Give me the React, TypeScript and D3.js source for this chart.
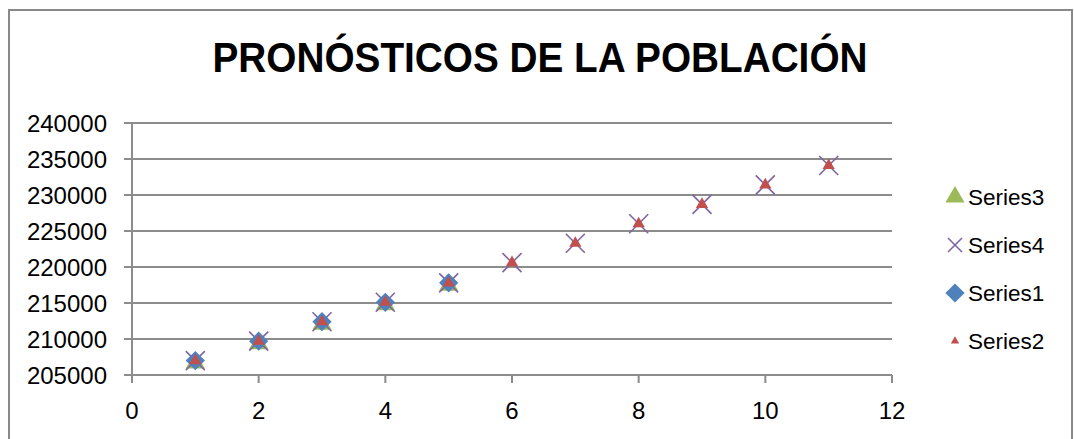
import React from "react";
import * as d3 from "d3";

const years = [1, 2, 3, 4, 5, 6, 7, 8, 9, 10, 11];
const series4 = [207000, 209700, 212400, 215100, 217800, 220600, 223300, 226000, 228700, 231400, 234100];
const series2 = [207000, 209700, 212400, 215100, 217800, 220600, 223300, 226000, 228700, 231400, 234100];
const series1 = [207000, 209700, 212400, 215100, 217800];
const series3 = [206800, 209500, 212200, 214900, 217600];
const yTicks = [205000, 210000, 215000, 220000, 225000, 230000, 235000, 240000];
const xTicks = [0, 2, 4, 6, 8, 10, 12];
const legendNames = ["Series3", "Series4", "Series1", "Series2"];

const FONT = "'Liberation Sans', Arial, sans-serif";
const GRID = "#8c8c8c";
const GREEN = "#9bbb59";
const PURPLE = "#8064a2";
const BLUE = "#4f81bd";
const RED = "#c0504d";

const bigTri = d3.symbol().type(d3.symbolTriangle).size(160)()!;
const smallTri = d3.symbol().type(d3.symbolTriangle).size(65)()!;
const square = d3.symbol().type(d3.symbolSquare).size(185)()!;

const XMark = ({ x, y, r }: { x: number; y: number; r: number }) => (
  <g stroke={PURPLE} strokeWidth={1.6}>
    <line x1={x - r} y1={y - r} x2={x + r} y2={y + r} />
    <line x1={x - r} y1={y + r} x2={x + r} y2={y - r} />
  </g>
);

const App = () => {
  const x = d3.scaleLinear().domain([0, 12]).range([132, 892]);
  const y = d3.scaleLinear().domain([205000, 240000]).range([375, 123]);

  const legendY = d3.scalePoint<string>().domain(legendNames).range([197, 341]);

  return (
    <svg width={1074} height={439} style={{ position: "absolute", left: 0, top: 0, background: "#fff" }}>
      <rect x={9} y={10} width={1063} height={440} fill="#fff" stroke="#898989" strokeWidth={2} />
      <text x={540} y={72} textAnchor="middle" fontFamily={FONT} fontWeight="bold" fontSize={43}
        textLength={655} lengthAdjust="spacingAndGlyphs">
        PRONÓSTICOS DE LA POBLACIÓN
      </text>

      {yTicks.map((t) => (
        <g key={t}>
          <line x1={124} x2={892} y1={y(t)} y2={y(t)} stroke={GRID} strokeWidth={2} />
          <text x={107} y={y(t) + 8.5} textAnchor="end" fontFamily={FONT} fontSize={24} fill="#000">
            {t}
          </text>
        </g>
      ))}
      <line x1={132} x2={132} y1={123} y2={376} stroke={GRID} strokeWidth={2} />
      {xTicks.map((t) => (
        <g key={t}>
          <line x1={x(t)} x2={x(t)} y1={375} y2={383} stroke={GRID} strokeWidth={2} />
          <text x={x(t)} y={419} textAnchor="middle" fontFamily={FONT} fontSize={24} fill="#000">
            {t}
          </text>
        </g>
      ))}

      {series3.map((v, i) => (
        <path key={"s3" + i} d={bigTri} fill={GREEN} transform={`translate(${x(years[i])},${y(v) + 1})`} />
      ))}
      {series4.map((v, i) => (
        <XMark key={"s4" + i} x={x(years[i])} y={y(v)} r={9.5} />
      ))}
      {series1.map((v, i) => (
        <path key={"s1" + i} d={square} fill={BLUE} transform={`translate(${x(years[i])},${y(v)}) rotate(45)`} />
      ))}
      {series2.map((v, i) => (
        <path key={"s2" + i} d={smallTri} fill={RED} transform={`translate(${x(years[i])},${y(v)})`} />
      ))}

      {legendNames.map((name) => {
        const ly = legendY(name)!;
        let marker;
        if (name === "Series3") marker = <path d={bigTri} fill={GREEN} transform={`translate(955,${ly})`} />;
        else if (name === "Series4") marker = <XMark x={955} y={ly} r={7} />;
        else if (name === "Series1")
          marker = <path d={square} fill={BLUE} transform={`translate(955,${ly}) rotate(45)`} />;
        else marker = <path d={d3.symbol().type(d3.symbolTriangle).size(30)()!} fill={RED} transform={`translate(955,${ly})`} />;
        return (
          <g key={name}>
            {marker}
            <text x={968} y={ly + 8} fontFamily={FONT} fontSize={22.5} fill="#000">
              {name}
            </text>
          </g>
        );
      })}
    </svg>
  );
};

export default App;
